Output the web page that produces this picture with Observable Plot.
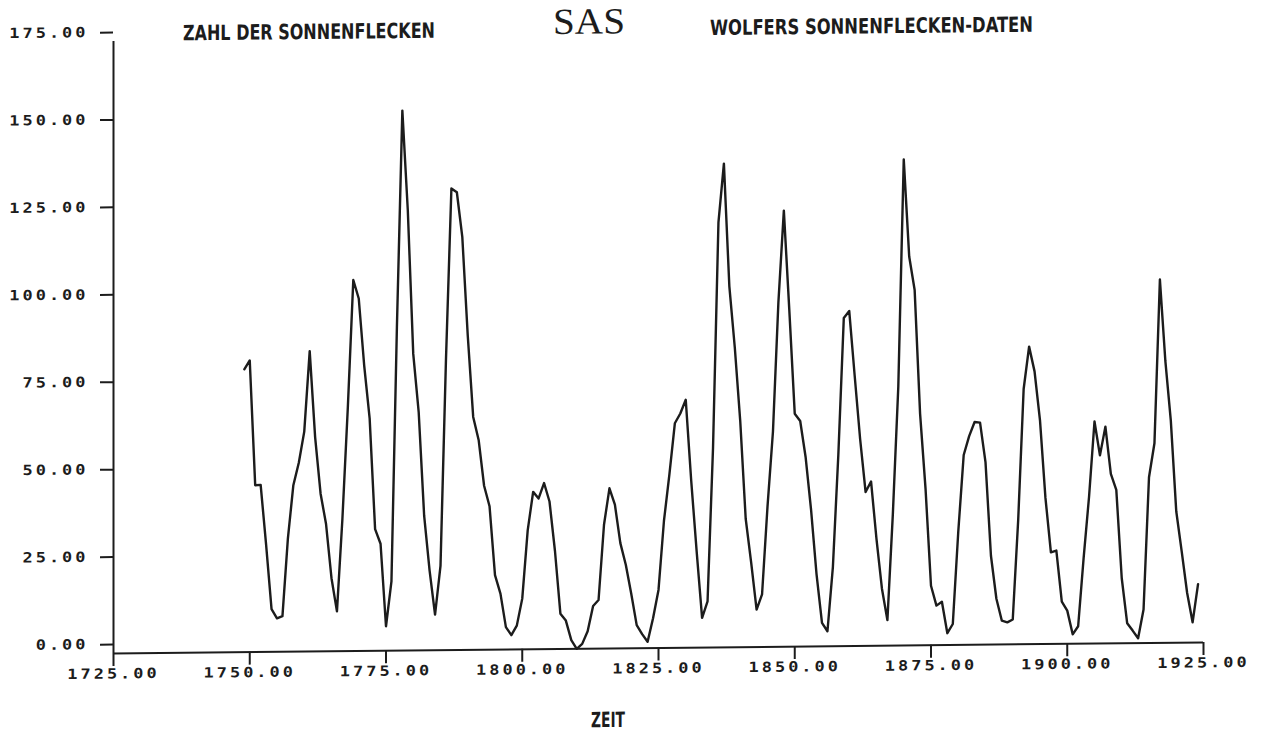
<!DOCTYPE html>
<html>
<head>
<meta charset="utf-8">
<script src="https://cdn.jsdelivr.net/npm/d3@7"></script>
<script src="https://cdn.jsdelivr.net/npm/@observablehq/plot@0.6"></script>
<style>
  html, body { margin: 0; padding: 0; background: #fff; overflow: hidden; }
  #chart {
    position: relative;
    width: 1272px;
    height: 733px;
    /* the plotter sheet sits slightly askew: horizontals climb toward the right */
    transform: skewY(-0.58deg);
    transform-origin: 113px 653px;
  }
  #chart svg.overlay { position: absolute; left: 0; top: 0; overflow: visible; }
</style>
</head>
<body>
<div id="chart"></div>
<script>
// Wolfer's yearly sunspot numbers, 1749-1924
const years = [
  1749,
  1750, 1751, 1752, 1753, 1754, 1755, 1756, 1757, 1758, 1759,
  1760, 1761, 1762, 1763, 1764, 1765, 1766, 1767, 1768, 1769,
  1770, 1771, 1772, 1773, 1774, 1775, 1776, 1777, 1778, 1779,
  1780, 1781, 1782, 1783, 1784, 1785, 1786, 1787, 1788, 1789,
  1790, 1791, 1792, 1793, 1794, 1795, 1796, 1797, 1798, 1799,
  1800, 1801, 1802, 1803, 1804, 1805, 1806, 1807, 1808, 1809,
  1810, 1811, 1812, 1813, 1814, 1815, 1816, 1817, 1818, 1819,
  1820, 1821, 1822, 1823, 1824, 1825, 1826, 1827, 1828, 1829,
  1830, 1831, 1832, 1833, 1834, 1835, 1836, 1837, 1838, 1839,
  1840, 1841, 1842, 1843, 1844, 1845, 1846, 1847, 1848, 1849,
  1850, 1851, 1852, 1853, 1854, 1855, 1856, 1857, 1858, 1859,
  1860, 1861, 1862, 1863, 1864, 1865, 1866, 1867, 1868, 1869,
  1870, 1871, 1872, 1873, 1874, 1875, 1876, 1877, 1878, 1879,
  1880, 1881, 1882, 1883, 1884, 1885, 1886, 1887, 1888, 1889,
  1890, 1891, 1892, 1893, 1894, 1895, 1896, 1897, 1898, 1899,
  1900, 1901, 1902, 1903, 1904, 1905, 1906, 1907, 1908, 1909,
  1910, 1911, 1912, 1913, 1914, 1915, 1916, 1917, 1918, 1919,
  1920, 1921, 1922, 1923, 1924
];

const sunspots = [
  80.9,
  83.4, 47.7, 47.8, 30.7, 12.2, 9.6, 10.2, 32.4, 47.6, 54.0,
  62.9, 85.9, 61.2, 45.1, 36.4, 20.9, 11.4, 37.8, 69.8, 106.1,
  100.8, 81.6, 66.5, 34.8, 30.6, 7.0, 19.8, 92.5, 154.4, 125.9,
  84.8, 68.1, 38.5, 22.8, 10.2, 24.1, 82.9, 132.0, 130.9, 118.1,
  89.9, 66.6, 60.0, 46.9, 41.0, 21.3, 16.0, 6.4, 4.1, 6.8,
  14.5, 34.0, 45.0, 43.1, 47.5, 42.2, 28.1, 10.1, 8.1, 2.5,
  0.0, 1.4, 5.0, 12.2, 13.9, 35.4, 45.8, 41.1, 30.1, 23.9,
  15.6, 6.6, 4.0, 1.8, 8.5, 16.6, 36.3, 49.6, 64.2, 67.0,
  70.9, 47.8, 27.5, 8.5, 13.2, 56.9, 121.5, 138.3, 103.2, 85.7,
  64.6, 36.7, 24.2, 10.7, 15.0, 40.1, 61.5, 98.5, 124.7, 96.3,
  66.6, 64.5, 54.1, 39.0, 20.6, 6.7, 4.3, 22.7, 54.8, 93.8,
  95.8, 77.2, 59.1, 44.0, 47.0, 30.5, 16.3, 7.3, 37.6, 74.0,
  139.0, 111.2, 101.6, 66.2, 44.7, 17.0, 11.3, 12.4, 3.4, 6.0,
  32.3, 54.3, 59.7, 63.7, 63.5, 52.2, 25.4, 13.1, 6.8, 6.3,
  7.1, 35.6, 73.0, 85.1, 78.0, 64.0, 41.8, 26.2, 26.7, 12.1,
  9.5, 2.7, 5.0, 24.4, 42.0, 63.5, 53.8, 62.0, 48.5, 43.9,
  18.6, 5.7, 3.6, 1.4, 9.6, 47.4, 57.1, 103.9, 80.6, 63.6,
  37.6, 26.1, 14.2, 5.8, 16.7
];

const xTicks = [1725, 1750, 1775, 1800, 1825, 1850, 1875, 1900, 1925];
const yTicks = [0, 25, 50, 75, 100, 125, 150, 175];

const titleLeft = "ZAHL DER SONNENFLECKEN";
const titleCenter = "SAS";
const titleRight = "WOLFERS SONNENFLECKEN-DATEN";
const xLabel = "ZEIT";

const rows = years.map((year, i) => ({year, count: sunspots[i]}));
const fmt = d3.format(".2f");
const ink = "#1c1c1c";

const plot = Plot.plot({
  width: 1272,
  height: 733,
  marginLeft: 113,
  marginRight: 69,
  marginTop: 41,
  marginBottom: 80,
  style: {
    fontFamily: "'DejaVu Sans Mono', 'Liberation Mono', monospace",
    fontSize: "14px",
    fontWeight: "bold",
    letterSpacing: "2.5px",
    color: ink,
    background: "#fff"
  },
  x: {domain: [1725, 1925]},
  y: {domain: [0, 175]},
  marks: [
    Plot.axisY({
      ticks: yTicks,
      tickFormat: fmt,
      tickSize: 13,
      tickPadding: 12,
      strokeWidth: 2,
      dy: -9,
      label: null
    }),
    Plot.axisX({
      ticks: xTicks,
      tickFormat: fmt,
      tickSize: 13,
      tickPadding: 2,
      strokeWidth: 2,
      label: null
    }),
    Plot.ruleX([1725], {stroke: ink, strokeWidth: 2}),
    Plot.ruleY([0], {stroke: ink, strokeWidth: 2}),
    Plot.line(rows, {
      x: "year",
      y: "count",
      stroke: ink,
      strokeWidth: 2.4,
      strokeLinejoin: "round"
    })
  ]
});

// Broad, evenly pitched plotter numerals on both axes (fixed pitch per character)
const pitch = 13.2;
d3.select(plot)
  .selectAll("[aria-label='y-axis tick label'] text, [aria-label='x-axis tick label'] text")
  .each(function () {
    const n = this.textContent.length;
    d3.select(this)
      .attr("textLength", n * pitch)
      .attr("lengthAdjust", "spacingAndGlyphs");
  });

const chart = document.getElementById("chart");
chart.appendChild(plot);

// Headline texts and the time-axis caption, fitted to their run lengths
const overlay = d3.select(chart).append("svg")
  .attr("class", "overlay")
  .attr("width", 1272)
  .attr("height", 733);

const sansNarrow = "'Liberation Sans Narrow', 'DejaVu Sans Condensed', 'Liberation Sans', sans-serif";
const heads = [
  {text: titleLeft, x: 183, y: 41, len: 252, size: 21, family: sansNarrow, weight: "bold"},
  {text: titleCenter, x: 553, y: 38.5, len: 72, size: 37, family: "'Liberation Serif', 'DejaVu Serif', serif", weight: "normal"},
  {text: titleRight, x: 710, y: 41, len: 323, size: 21, family: sansNarrow, weight: "bold"},
  {text: xLabel, x: 591, y: 732, len: 34, size: 21, family: sansNarrow, weight: "bold"}
];

overlay.selectAll("text")
  .data(heads)
  .join("text")
  .attr("x", d => d.x)
  .attr("y", d => d.y)
  .attr("textLength", d => d.len)
  .attr("lengthAdjust", "spacingAndGlyphs")
  .attr("fill", ink)
  .style("font-family", d => d.family)
  .style("font-size", d => d.size + "px")
  .style("font-weight", d => d.weight)
  .text(d => d.text);
</script>
</body>
</html>
